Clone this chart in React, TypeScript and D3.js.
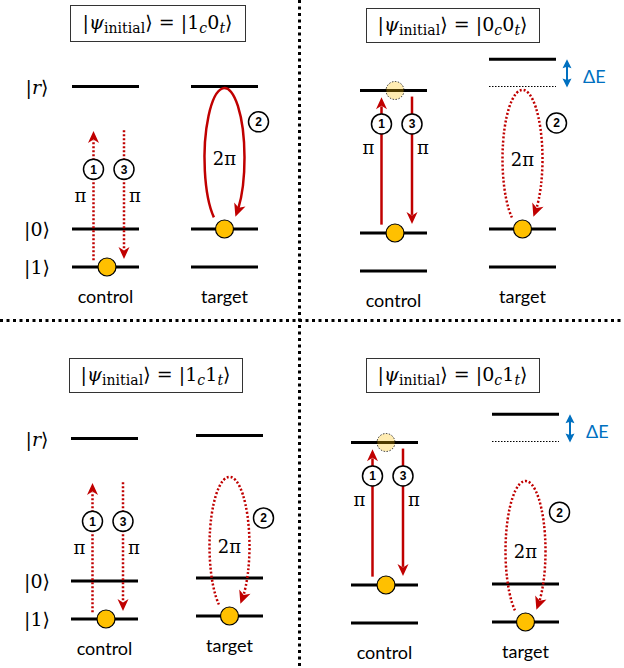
import React from "react";
import * as d3 from "d3";

// ---------- data ----------
const CONTROL_STATES = ["1", "0", "1", "0"];
const TARGET_STATES = ["0", "0", "1", "1"];
const LEVEL_KEYS = ["1", "0", "r"];
const LEVEL_ENERGIES = [0, 1, 4.75];
const LEVEL_LABELS = ["|1⟩", "|0⟩", "|r⟩"];
const BLOCKADE_SHIFT = 0.72;
const LOOP_TOP = [4.71, 4.66, 3.66, 3.71];
const STEP_NUMBERS = ["1", "2", "3"];
const PULSE_AREAS = ["π", "2π", "π"];
const COLUMN_NAMES = ["control", "target"];
const SHIFT_LABEL = "ΔE";

// ---------- layout / style ----------
const W = 624;
const H = 668;
const PX_PER_UNIT = 38;
const LEVEL_W = 67;
const RED = "#C00000";
const BALL = "#FFC000";
const BLUE = "#0070C0";
const SERIF = "'DejaVu Serif', 'Liberation Serif', serif";
const SANS = "Lato, 'Liberation Sans', sans-serif";

const LAYOUT = [
  { box: [70, 5, 245, 41], ctrl: [72, 267], tgt: [191, 267], step2E: 3.82, labels: true },
  { box: [366, 8, 539, 42], ctrl: [360, 271], tgt: [489, 267], step2E: 3.79, labels: false },
  { box: [69, 358, 242, 392], ctrl: [71, 619], tgt: [196, 616], step2E: 2.58, labels: true },
  { box: [366, 358, 539, 392], ctrl: [351, 623], tgt: [492, 622], step2E: 2.89, labels: false },
];

const eOf = (k: string) => LEVEL_ENERGIES[LEVEL_KEYS.indexOf(k)];
const R_E = eOf("r");

function head(tx: number, ty: number, angle: number, L = 12, Wd = 5.5, notch = 3.5) {
  const ux = Math.cos(angle), uy = Math.sin(angle);
  const px = -uy, py = ux;
  const bx = tx - ux * L, by = ty - uy * L;
  const nx = tx - ux * (L - notch), ny = ty - uy * (L - notch);
  return `M${tx},${ty}L${bx + px * Wd},${by + py * Wd}L${nx},${ny}L${bx - px * Wd},${by - py * Wd}Z`;
}

function StepCircle({ x, y, n }: { x: number; y: number; n: string }) {
  return (
    <g>
      <circle cx={x} cy={y} r={10} fill="white" stroke="black" strokeWidth={1.5} />
      <text x={x} y={y + 0.5} textAnchor="middle" dominantBaseline="central"
        fontFamily="'Liberation Sans', Arial, sans-serif" fontWeight="bold" fontSize={12}>{n}</text>
    </g>
  );
}

function VArrow({ x, y0, y1, dotted }: { x: number; y0: number; y1: number; dotted: boolean }) {
  const dir = y1 < y0 ? -1 : 1;
  const ang = dir < 0 ? -Math.PI / 2 : Math.PI / 2;
  const lineEnd = y1 - dir * 9;
  return (
    <g>
      <line x1={x} y1={y0} x2={x} y2={lineEnd} stroke={RED} strokeWidth={2.5}
        strokeDasharray={dotted ? "2 2" : undefined} />
      <path d={head(x, y1, ang)} fill={RED} />
    </g>
  );
}

function Title({ i }: { i: number }) {
  const [x0, y0, x1, y1] = LAYOUT[i].box;
  const cx = (x0 + x1) / 2;
  const cy = (y0 + y1) / 2;
  return (
    <g>
      <rect x={x0 + 0.5} y={y0 + 0.5} width={x1 - x0} height={y1 - y0} fill="white" stroke="#333" strokeWidth={1} />
      <text x={cx} y={cy + 6} textAnchor="middle" fontFamily={SERIF} fontSize={19}
        textLength={150} lengthAdjust="spacing">
        <tspan>|</tspan>
        <tspan fontStyle="italic">ψ</tspan>
        <tspan fontSize={14} dy={4}>initial</tspan>
        <tspan dy={-4}>{"⟩ = |" + CONTROL_STATES[i]}</tspan>
        <tspan fontSize={14} fontStyle="italic" dy={4}>c</tspan>
        <tspan dy={-4}>{TARGET_STATES[i]}</tspan>
        <tspan fontSize={14} fontStyle="italic" dy={4}>t</tspan>
        <tspan dy={-4}>⟩</tspan>
      </text>
    </g>
  );
}

function Panel({ i }: { i: number }) {
  const lay = LAYOUT[i];
  const control = CONTROL_STATES[i];
  const target = TARGET_STATES[i];
  const excited = control === "0";
  const resonant = !excited && target === "0";

  const yC = d3.scaleLinear().domain([0, 1]).range([lay.ctrl[1], lay.ctrl[1] - PX_PER_UNIT]);
  const yT = d3.scaleLinear().domain([0, 1]).range([lay.tgt[1], lay.tgt[1] - PX_PER_UNIT]);
  const xC = d3.scaleLinear().domain([0, 1]).range([lay.ctrl[0], lay.ctrl[0] + LEVEL_W]);
  const xT = d3.scaleLinear().domain([0, 1]).range([lay.tgt[0], lay.tgt[0] + LEVEL_W]);
  const cC = xC(0.5);
  const cT = xT(0.5);

  // control arrows
  const upX = cC - 12;
  const downX = cC + 18.5;
  const ballCE = eOf(control);
  const arr = excited
    ? { upFrom: ballCE + 0.22, upTo: R_E - 0.18, dnFrom: R_E - 0.16, dnTo: ballCE + 0.24, step: 3.87, pi: 3.25 }
    : { upFrom: ballCE + 0.18, upTo: 3.58, dnFrom: 3.6, dnTo: ballCE + 0.21, step: 2.57, pi: 1.87 };

  // target loop
  const ballTE = eOf(target);
  const top = yT(LOOP_TOP[i]);
  const bot = yT(ballTE) - 1;
  const ecx = cT;
  const ecy = (top + bot) / 2;
  const rx = 20;
  const ry = (bot - top) / 2;
  const th0 = (122 * Math.PI) / 180;
  const thTip = (417 * Math.PI) / 180;
  const pt = (t: number) => [ecx + rx * Math.cos(t), ecy + ry * Math.sin(t)];
  let thEnd = thTip;
  {
    const [tx0, ty0] = pt(thTip);
    while (thEnd > th0) {
      const [x, y] = pt(thEnd);
      if (Math.hypot(x - tx0, y - ty0) >= 8) break;
      thEnd -= 0.005;
    }
  }
  const [sx, sy] = pt(th0);
  const [exx, eyy] = pt(thEnd);
  const [tx, ty] = pt(thTip);
  const tipAng = Math.atan2(ty - eyy, tx - exx);
  const loopPath = `M${sx},${sy}A${rx},${ry} 0 1 1 ${exx},${eyy}`;

  const tgtLevels: { e: number; dotted: boolean }[] = LEVEL_ENERGIES.map((e, k) => ({
    e,
    dotted: excited && LEVEL_KEYS[k] === "r",
  }));
  if (excited) tgtLevels.push({ e: R_E + BLOCKADE_SHIFT, dotted: false });

  const shiftX = xT(1) + 11;

  return (
    <g>
      <Title i={i} />
      {lay.labels &&
        LEVEL_ENERGIES.map((e, k) => (
          <text key={k} x={37} y={yC(e)} textAnchor="middle" dominantBaseline="central"
            fontFamily={SERIF} fontSize={19}>
            {LEVEL_LABELS[k].slice(0, 1)}
            <tspan fontStyle={LEVEL_KEYS[k] === "r" ? "italic" : "normal"}>{LEVEL_LABELS[k].slice(1, 2)}</tspan>
            {LEVEL_LABELS[k].slice(2)}
          </text>
        ))}
      {LEVEL_ENERGIES.map((e, k) => (
        <line key={"c" + k} x1={xC(0)} x2={xC(1)} y1={yC(e)} y2={yC(e)} stroke="black" strokeWidth={3} />
      ))}
      {tgtLevels.map((l, k) => (
        <line key={"t" + k} x1={xT(0)} x2={xT(1)} y1={yT(l.e)} y2={yT(l.e)} stroke="black"
          strokeWidth={l.dotted ? 1.2 : 3} strokeDasharray={l.dotted ? "1.5 1.5" : undefined} />
      ))}
      <VArrow x={upX} y0={yC(arr.upFrom)} y1={yC(arr.upTo)} dotted={!excited} />
      <VArrow x={downX} y0={yC(arr.dnFrom)} y1={yC(arr.dnTo)} dotted={!excited} />
      <StepCircle x={upX} y={yC(arr.step)} n={STEP_NUMBERS[0]} />
      <StepCircle x={downX} y={yC(arr.step)} n={STEP_NUMBERS[2]} />
      <text x={upX - 13} y={yC(arr.pi)} textAnchor="middle" dominantBaseline="central" fontFamily={SERIF} fontSize={18}>
        {PULSE_AREAS[0]}
      </text>
      <text x={downX + 11} y={yC(arr.pi)} textAnchor="middle" dominantBaseline="central" fontFamily={SERIF} fontSize={18}>
        {PULSE_AREAS[2]}
      </text>
      <circle cx={cC + 1.5} cy={yC(ballCE)} r={9} fill={BALL} stroke="black" strokeWidth={1.2} />
      {excited && (
        <circle cx={cC + 1.5} cy={yC(R_E)} r={9} fill={BALL} fillOpacity={0.3} stroke="black"
          strokeWidth={0.8} strokeDasharray="1.5 1.5" />
      )}
      <path d={loopPath} fill="none" stroke={RED} strokeWidth={2.5} strokeDasharray={resonant ? undefined : "2 2"} />
      <path d={head(tx, ty, tipAng, 13, 6, 3.5)} fill={RED} />
      <text x={cT} y={yT((ballTE + LOOP_TOP[i]) / 2)} textAnchor="middle" dominantBaseline="central"
        fontFamily={SERIF} fontSize={18}>
        {PULSE_AREAS[1]}
      </text>
      <StepCircle x={cT + 34} y={yT(lay.step2E)} n={STEP_NUMBERS[1]} />
      <circle cx={cT} cy={yT(ballTE)} r={9} fill={BALL} stroke="black" strokeWidth={1.2} />
      {excited && (
        <g>
          <line x1={shiftX} x2={shiftX} y1={yT(R_E + BLOCKADE_SHIFT) + 6} y2={yT(R_E) - 6} stroke={BLUE} strokeWidth={2} />
          <path d={head(shiftX, yT(R_E + BLOCKADE_SHIFT), -Math.PI / 2, 9, 4.5, 1.5)} fill={BLUE} />
          <path d={head(shiftX, yT(R_E) + 1, Math.PI / 2, 9, 4.5, 1.5)} fill={BLUE} />
          <text x={shiftX + 16} y={(yT(R_E + BLOCKADE_SHIFT) + yT(R_E)) / 2 + 3} dominantBaseline="central"
            fontFamily={SANS} fontSize={18} fill={BLUE}>
            {SHIFT_LABEL}
          </text>
        </g>
      )}
      <text x={cC} y={lay.ctrl[1] + 36} textAnchor="middle" fontFamily={SANS} fontSize={18}>
        {COLUMN_NAMES[0]}
      </text>
      <text x={cT} y={lay.tgt[1] + 36} textAnchor="middle" fontFamily={SANS} fontSize={18}>
        {COLUMN_NAMES[1]}
      </text>
    </g>
  );
}

export default function App() {
  return (
    <svg width={W} height={H} viewBox={`0 0 ${W} ${H}`}
      style={{ position: "absolute", left: 0, top: 0, background: "white" }}>
      <rect x={0} y={0} width={W} height={H} fill="white" />
      {CONTROL_STATES.map((_, i) => (
        <Panel key={i} i={i} />
      ))}
      <line x1={299.5} x2={299.5} y1={0} y2={H} stroke="black" strokeWidth={3} strokeDasharray="3 3.5" />
      <line x1={0} x2={W} y1={320.5} y2={320.5} stroke="black" strokeWidth={3} strokeDasharray="3 3.5" />
    </svg>
  );
}
